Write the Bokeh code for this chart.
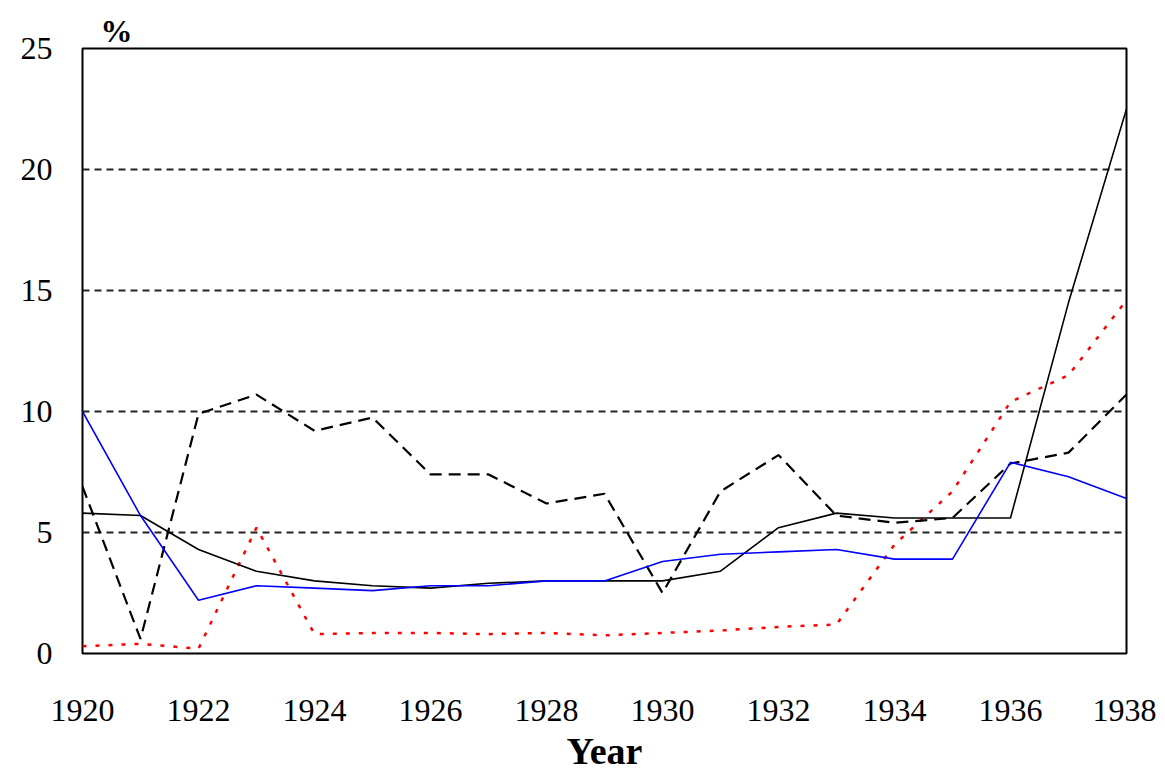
from bokeh.plotting import figure
from bokeh.models import Range1d, FixedTicker
from bokeh.embed import file_html
from bokeh.resources import INLINE

years = list(range(1920, 1939))
blue_series = [10.0, 5.7, 2.2, 2.8, 2.7, 2.6, 2.8, 2.8, 3.0, 3.0, 3.8, 4.1, 4.2, 4.3, 3.9, 3.9, 7.9, 7.3, 6.4]
black_solid = [5.8, 5.7, 4.3, 3.4, 3.0, 2.8, 2.7, 2.9, 3.0, 3.0, 3.0, 3.4, 5.2, 5.8, 5.6, 5.6, 5.6, 14.5, 22.5]
black_dashed = [6.9, 0.6, 9.9, 10.7, 9.2, 9.75, 7.4, 7.4, 6.2, 6.6, 2.5, 6.7, 8.2, 5.7, 5.4, 5.6, 7.85, 8.3, 10.7]
red_dotted = [0.3, 0.4, 0.2, 5.2, 0.8, 0.85, 0.85, 0.8, 0.85, 0.75, 0.85, 0.95, 1.1, 1.2, 4.5, 6.7, 10.4, 11.5, 14.6]
x_ticks = [1920, 1922, 1924, 1926, 1928, 1930, 1932, 1934, 1936, 1938]
y_ticks = [0, 5, 10, 15, 20, 25]

FONT = "Liberation Serif"

p = figure(frame_width=1044, frame_height=605, output_backend="svg", toolbar_location=None,
           x_range=Range1d(1920, 1938), y_range=Range1d(0, 25),
           min_border_left=82, min_border_top=48, min_border_right=30, min_border_bottom=0,
           title="%")
p.background_fill_color = "white"
p.border_fill_color = "white"
p.outline_line_color = "black"
p.outline_line_width = 2

p.title.align = "left"
p.title.offset = 18
p.title.standoff = 0
p.title.text_font = FONT
p.title.text_font_size = "32px"
p.title.text_font_style = "bold"
p.title.text_color = "black"

p.xaxis.ticker = FixedTicker(ticks=x_ticks)
p.yaxis.ticker = FixedTicker(ticks=y_ticks)
for ax in (p.xaxis[0], p.yaxis[0]):
    ax.axis_line_color = None
    ax.major_tick_line_color = None
    ax.minor_tick_line_color = None
    ax.major_tick_out = 0
    ax.major_tick_in = 0
    ax.minor_tick_out = 0
    ax.major_label_text_font = FONT
    ax.major_label_text_font_size = "32px"
    ax.major_label_text_color = "black"
p.xaxis.major_label_standoff = 46
p.yaxis.major_label_standoff = 30
p.xaxis.axis_label = "Year"
p.xaxis.axis_label_text_font = FONT
p.xaxis.axis_label_text_font_size = "38px"
p.xaxis.axis_label_text_font_style = "bold"
p.xaxis.axis_label_text_color = "black"
p.xaxis.axis_label_standoff = 6

p.xgrid.grid_line_color = None
p.ygrid.grid_line_color = "#222222"
p.ygrid.grid_line_width = 2
p.ygrid.grid_line_dash = "7 5"

p.line(years, red_dotted, line_color="#ff0000", line_width=2.5, line_dash="4 9")
p.line(years, black_dashed, line_color="black", line_width=2.2, line_dash="12 7")
p.line(years, black_solid, line_color="black", line_width=1.6)
p.line(years, blue_series, line_color="#0000ff", line_width=1.6)

open("out.html", "w").write(file_html(p, INLINE))
